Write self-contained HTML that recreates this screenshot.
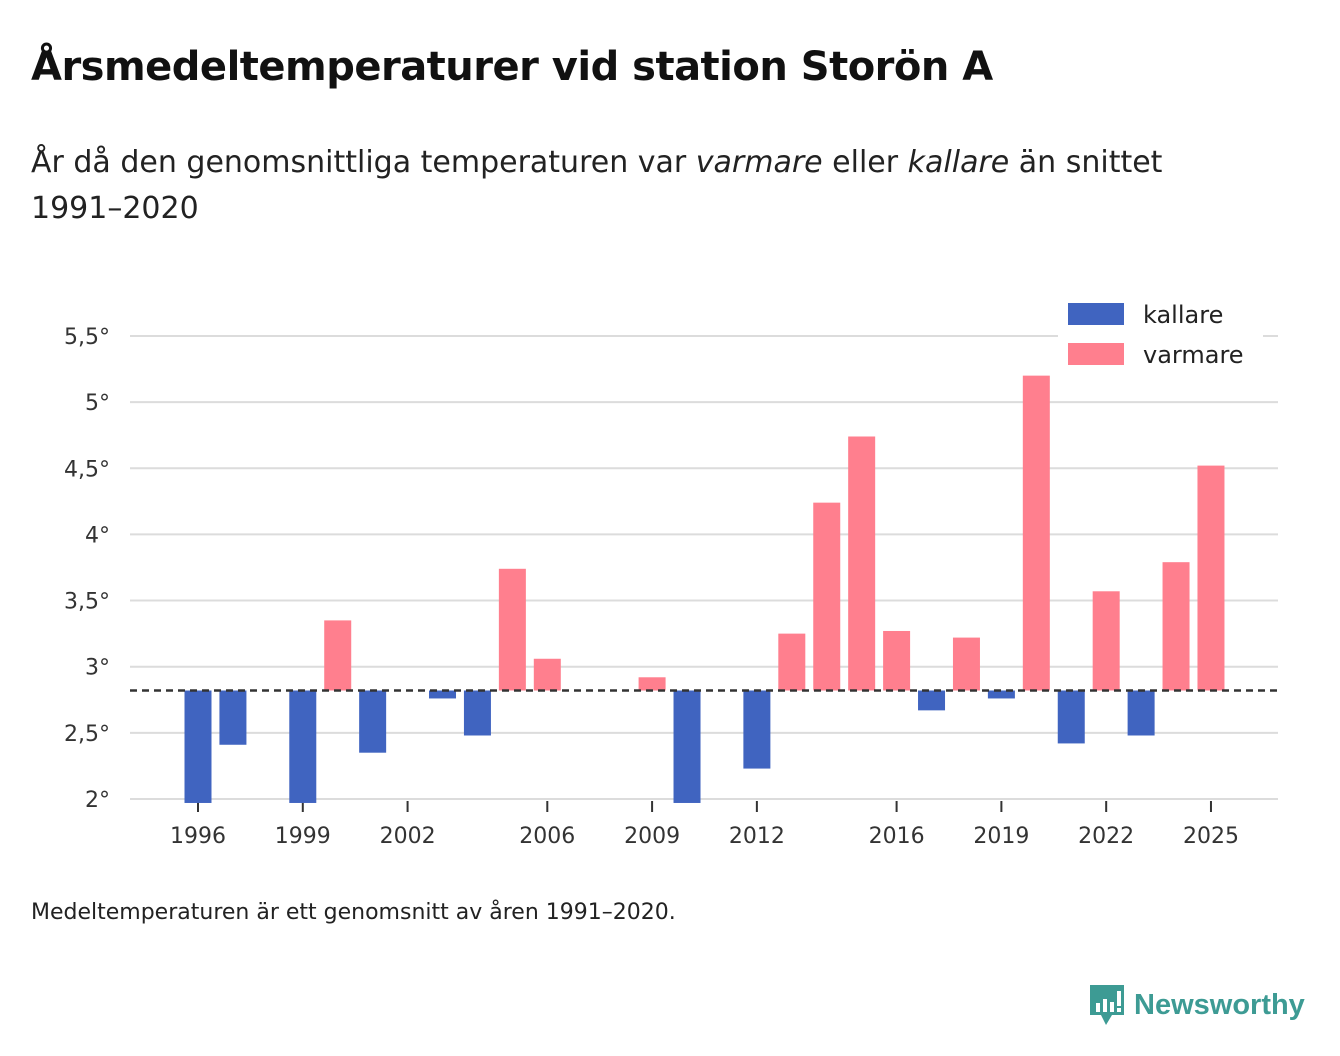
<!DOCTYPE html>
<html><head><meta charset="utf-8"><style>
body{margin:0;width:1340px;height:1056px;background:#fff;font-family:"DejaVu Sans","Liberation Sans",sans-serif;color:#111;position:relative;overflow:hidden}
h1{position:absolute;left:31px;top:44px;margin:0;font-size:40px;font-weight:bold;letter-spacing:-0.5px}
.sub{position:absolute;left:31px;top:140px;font-size:30px;line-height:46px;color:#222;width:1290px}
.note{position:absolute;left:31px;top:900px;font-size:22px;color:#222}
.logo{position:absolute;left:1088px;top:983px;display:flex;align-items:center}
.logo span{font-size:29px;font-weight:bold;color:#3d9b94;margin-left:8px;font-family:"Liberation Sans",sans-serif}
svg{position:absolute;left:0;top:0}
</style></head><body>
<h1>Årsmedeltemperaturer vid station Storön A</h1>
<div class="sub">År då den genomsnittliga temperaturen var <i>varmare</i> eller <i>kallare</i> än snittet<br>1991–2020</div>
<svg id="chart" width="1340" height="1056"></svg>
<div class="note">Medeltemperaturen är ett genomsnitt av åren 1991–2020.</div>
<div class="logo">
<svg style="position:static" width="38" height="44" viewBox="0 0 38 44"><path d="M2 2h34v30H24l-6 10-5-10H2z" fill="#3d9b94"/><rect x="8" y="20" width="4" height="9" fill="#fff"/><rect x="15" y="16" width="4" height="13" fill="#fff"/><rect x="22" y="19" width="4" height="10" fill="#fff"/><rect x="29" y="8" width="4" height="15" fill="#fff"/><rect x="29" y="25" width="4" height="4" fill="#fff"/></svg>
<span>Newsworthy</span></div>
<script>
const years=[1996,1997,1998,1999,2000,2001,2002,2003,2004,2005,2006,2007,2008,2009,2010,2011,2012,2013,2014,2015,2016,2017,2018,2019,2020,2021,2022,2023,2024,2025];
const temps=[1.97,2.41,null,1.97,3.35,2.35,null,2.76,2.48,3.74,3.06,null,null,2.92,1.97,null,2.23,3.25,4.24,4.74,3.27,2.67,3.22,2.76,5.20,2.42,3.57,2.48,3.79,4.52];
const baseline=2.82;
const yTicks=[2,2.5,3,3.5,4,4.5,5,5.5];
const yLabels=["2°","2,5°","3°","3,5°","4°","4,5°","5°","5,5°"];
const xTicks=[1996,1999,2002,2006,2009,2012,2016,2019,2022,2025];
const NS="http://www.w3.org/2000/svg";
const svg=document.getElementById('chart');
const X=y=>198+(y-1996)*34.93;
const Y=v=>799-(v-2)*132.3;
const bottom=803;
function el(t,a){const e=document.createElementNS(NS,t);for(const k in a)e.setAttribute(k,a[k]);svg.appendChild(e);return e;}
yTicks.forEach((v,i)=>{
 const g=el('line',{x1:130,x2:1278,y1:Y(v),y2:Y(v),stroke:'#dcdcdc','stroke-width':2});
 
 
 const t=el('text',{x:110,y:Y(v)+8,'text-anchor':'end','font-size':22,fill:'#333'});
 t.textContent=yLabels[i];
 
 
});
xTicks.forEach(y=>{
 const l=el('line',{x1:X(y),x2:X(y),y1:801,y2:812,stroke:'#333','stroke-width':2});
 
 
 const t=el('text',{x:X(y),y:843,'text-anchor':'middle','font-size':22,fill:'#333'});
 t.textContent=y;
 
 
});
years.forEach((yr,i)=>{
 const v=temps[i]; if(v==null)return;
 const top=Math.min(Y(v),Y(baseline)), bot=Math.min(bottom,Math.max(Y(v),Y(baseline)));
 const r=el('rect',{x:X(yr)-13.5,y:top,width:27,height:bot-top,fill:v>=baseline?'#ff7f8e':'#4064c0'});
 
 
});
const b=el('line',{x1:130,x2:1278,y1:Y(baseline),y2:Y(baseline),stroke:'#333','stroke-width':2.5,'stroke-dasharray':'7,5'});


const lg=[['kallare','#4064c0',303],['varmare','#ff7f8e',343]];
el('rect',{x:1058,y:292,width:205,height:85,fill:'#fff'});
lg.forEach(([n,c,y])=>{
 const r=el('rect',{x:1068,y:y,width:56,height:22,fill:c});
 
 
 const t=el('text',{x:1143,y:y+20,'font-size':24,fill:'#222'});
 t.textContent=n;
 
 
});
</script>
</body></html>
